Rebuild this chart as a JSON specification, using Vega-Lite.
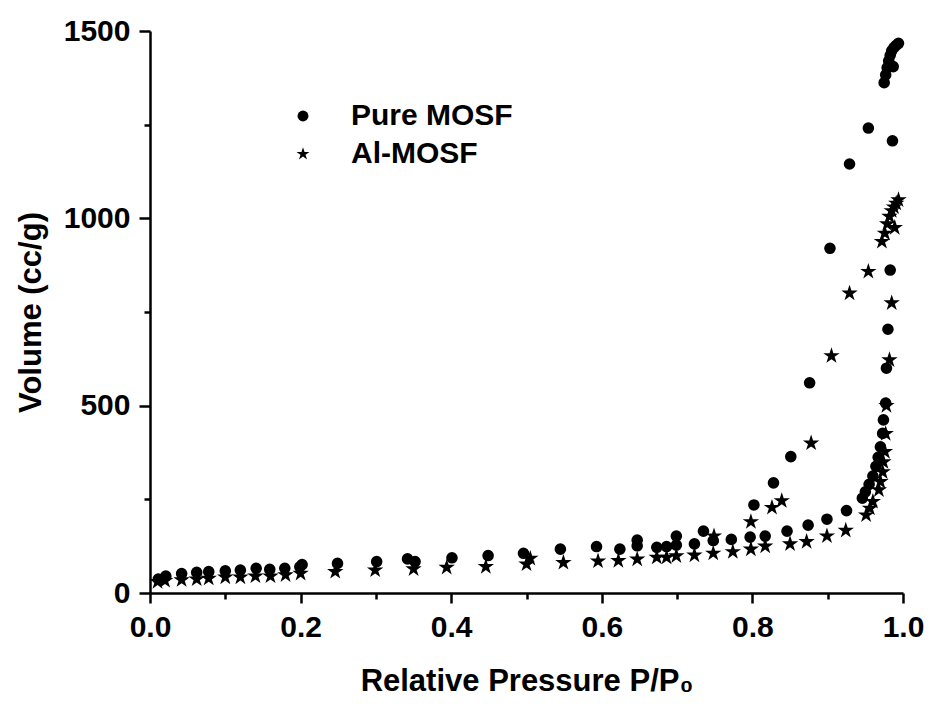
{
  "$schema": "https://vega.github.io/schema/vega-lite/v6.json",
  "width": 753,
  "height": 562,
  "autosize": "none",
  "padding": {"left": 150, "top": 31, "right": 28, "bottom": 115},
  "background": "white",
  "config": {
    "view": {"stroke": null},
    "font": "Liberation Sans"
  },
  "data": {
    "values": [
      {"p": 0.011, "v": 37, "s": "Pure MOSF"},
      {"p": 0.021, "v": 45, "s": "Pure MOSF"},
      {"p": 0.042, "v": 52, "s": "Pure MOSF"},
      {"p": 0.062, "v": 55, "s": "Pure MOSF"},
      {"p": 0.078, "v": 57, "s": "Pure MOSF"},
      {"p": 0.100, "v": 59, "s": "Pure MOSF"},
      {"p": 0.120, "v": 61, "s": "Pure MOSF"},
      {"p": 0.141, "v": 66, "s": "Pure MOSF"},
      {"p": 0.159, "v": 63, "s": "Pure MOSF"},
      {"p": 0.179, "v": 66, "s": "Pure MOSF"},
      {"p": 0.199, "v": 70, "s": "Pure MOSF"},
      {"p": 0.202, "v": 76, "s": "Pure MOSF"},
      {"p": 0.249, "v": 79, "s": "Pure MOSF"},
      {"p": 0.301, "v": 84, "s": "Pure MOSF"},
      {"p": 0.342, "v": 91, "s": "Pure MOSF"},
      {"p": 0.352, "v": 84, "s": "Pure MOSF"},
      {"p": 0.401, "v": 94, "s": "Pure MOSF"},
      {"p": 0.449, "v": 100, "s": "Pure MOSF"},
      {"p": 0.496, "v": 106, "s": "Pure MOSF"},
      {"p": 0.545, "v": 117, "s": "Pure MOSF"},
      {"p": 0.593, "v": 124, "s": "Pure MOSF"},
      {"p": 0.624, "v": 117, "s": "Pure MOSF"},
      {"p": 0.647, "v": 126, "s": "Pure MOSF"},
      {"p": 0.647, "v": 141, "s": "Pure MOSF"},
      {"p": 0.673, "v": 122, "s": "Pure MOSF"},
      {"p": 0.686, "v": 124, "s": "Pure MOSF"},
      {"p": 0.699, "v": 128, "s": "Pure MOSF"},
      {"p": 0.699, "v": 152, "s": "Pure MOSF"},
      {"p": 0.723, "v": 131, "s": "Pure MOSF"},
      {"p": 0.735, "v": 165, "s": "Pure MOSF"},
      {"p": 0.748, "v": 140, "s": "Pure MOSF"},
      {"p": 0.772, "v": 143, "s": "Pure MOSF"},
      {"p": 0.797, "v": 149, "s": "Pure MOSF"},
      {"p": 0.802, "v": 235, "s": "Pure MOSF"},
      {"p": 0.817, "v": 152, "s": "Pure MOSF"},
      {"p": 0.828, "v": 294, "s": "Pure MOSF"},
      {"p": 0.846, "v": 165, "s": "Pure MOSF"},
      {"p": 0.851, "v": 364, "s": "Pure MOSF"},
      {"p": 0.874, "v": 181, "s": "Pure MOSF"},
      {"p": 0.876, "v": 561, "s": "Pure MOSF"},
      {"p": 0.899, "v": 197, "s": "Pure MOSF"},
      {"p": 0.903, "v": 920, "s": "Pure MOSF"},
      {"p": 0.925, "v": 220, "s": "Pure MOSF"},
      {"p": 0.929, "v": 1145, "s": "Pure MOSF"},
      {"p": 0.946, "v": 253, "s": "Pure MOSF"},
      {"p": 0.950, "v": 270, "s": "Pure MOSF"},
      {"p": 0.954, "v": 1241, "s": "Pure MOSF"},
      {"p": 0.955, "v": 290, "s": "Pure MOSF"},
      {"p": 0.960, "v": 312, "s": "Pure MOSF"},
      {"p": 0.964, "v": 338, "s": "Pure MOSF"},
      {"p": 0.967, "v": 362, "s": "Pure MOSF"},
      {"p": 0.970, "v": 390, "s": "Pure MOSF"},
      {"p": 0.973, "v": 426, "s": "Pure MOSF"},
      {"p": 0.974, "v": 462, "s": "Pure MOSF"},
      {"p": 0.977, "v": 507, "s": "Pure MOSF"},
      {"p": 0.978, "v": 600, "s": "Pure MOSF"},
      {"p": 0.980, "v": 704, "s": "Pure MOSF"},
      {"p": 0.983, "v": 862, "s": "Pure MOSF"},
      {"p": 0.986, "v": 1207, "s": "Pure MOSF"},
      {"p": 0.975, "v": 1362, "s": "Pure MOSF"},
      {"p": 0.977, "v": 1383, "s": "Pure MOSF"},
      {"p": 0.979, "v": 1402, "s": "Pure MOSF"},
      {"p": 0.981, "v": 1420, "s": "Pure MOSF"},
      {"p": 0.983, "v": 1435, "s": "Pure MOSF"},
      {"p": 0.985, "v": 1447, "s": "Pure MOSF"},
      {"p": 0.988, "v": 1456, "s": "Pure MOSF"},
      {"p": 0.991, "v": 1462, "s": "Pure MOSF"},
      {"p": 0.994, "v": 1467, "s": "Pure MOSF"},
      {"p": 0.987, "v": 1405, "s": "Pure MOSF"},
      {"p": 0.010, "v": 30, "s": "Al-MOSF"},
      {"p": 0.020, "v": 33, "s": "Al-MOSF"},
      {"p": 0.042, "v": 35, "s": "Al-MOSF"},
      {"p": 0.062, "v": 37, "s": "Al-MOSF"},
      {"p": 0.078, "v": 39, "s": "Al-MOSF"},
      {"p": 0.100, "v": 42, "s": "Al-MOSF"},
      {"p": 0.120, "v": 42, "s": "Al-MOSF"},
      {"p": 0.140, "v": 45, "s": "Al-MOSF"},
      {"p": 0.160, "v": 45, "s": "Al-MOSF"},
      {"p": 0.180, "v": 48, "s": "Al-MOSF"},
      {"p": 0.200, "v": 52, "s": "Al-MOSF"},
      {"p": 0.246, "v": 57, "s": "Al-MOSF"},
      {"p": 0.299, "v": 61, "s": "Al-MOSF"},
      {"p": 0.350, "v": 64, "s": "Al-MOSF"},
      {"p": 0.394, "v": 68, "s": "Al-MOSF"},
      {"p": 0.446, "v": 70, "s": "Al-MOSF"},
      {"p": 0.500, "v": 77, "s": "Al-MOSF"},
      {"p": 0.505, "v": 92, "s": "Al-MOSF"},
      {"p": 0.549, "v": 81, "s": "Al-MOSF"},
      {"p": 0.595, "v": 85, "s": "Al-MOSF"},
      {"p": 0.622, "v": 86, "s": "Al-MOSF"},
      {"p": 0.647, "v": 90, "s": "Al-MOSF"},
      {"p": 0.673, "v": 95, "s": "Al-MOSF"},
      {"p": 0.686, "v": 95, "s": "Al-MOSF"},
      {"p": 0.699, "v": 99, "s": "Al-MOSF"},
      {"p": 0.723, "v": 101, "s": "Al-MOSF"},
      {"p": 0.748, "v": 106, "s": "Al-MOSF"},
      {"p": 0.749, "v": 152, "s": "Al-MOSF"},
      {"p": 0.774, "v": 110, "s": "Al-MOSF"},
      {"p": 0.798, "v": 117, "s": "Al-MOSF"},
      {"p": 0.798, "v": 190, "s": "Al-MOSF"},
      {"p": 0.817, "v": 125, "s": "Al-MOSF"},
      {"p": 0.826, "v": 228, "s": "Al-MOSF"},
      {"p": 0.839, "v": 246, "s": "Al-MOSF"},
      {"p": 0.850, "v": 131, "s": "Al-MOSF"},
      {"p": 0.872, "v": 137, "s": "Al-MOSF"},
      {"p": 0.878, "v": 400, "s": "Al-MOSF"},
      {"p": 0.899, "v": 152, "s": "Al-MOSF"},
      {"p": 0.905, "v": 633, "s": "Al-MOSF"},
      {"p": 0.924, "v": 167, "s": "Al-MOSF"},
      {"p": 0.929, "v": 800, "s": "Al-MOSF"},
      {"p": 0.951, "v": 208, "s": "Al-MOSF"},
      {"p": 0.954, "v": 858, "s": "Al-MOSF"},
      {"p": 0.956, "v": 226, "s": "Al-MOSF"},
      {"p": 0.960, "v": 244, "s": "Al-MOSF"},
      {"p": 0.968, "v": 275, "s": "Al-MOSF"},
      {"p": 0.970, "v": 297, "s": "Al-MOSF"},
      {"p": 0.973, "v": 323, "s": "Al-MOSF"},
      {"p": 0.974, "v": 350, "s": "Al-MOSF"},
      {"p": 0.976, "v": 377, "s": "Al-MOSF"},
      {"p": 0.977, "v": 425, "s": "Al-MOSF"},
      {"p": 0.978, "v": 500, "s": "Al-MOSF"},
      {"p": 0.982, "v": 622, "s": "Al-MOSF"},
      {"p": 0.985, "v": 774, "s": "Al-MOSF"},
      {"p": 0.972, "v": 938, "s": "Al-MOSF"},
      {"p": 0.976, "v": 960, "s": "Al-MOSF"},
      {"p": 0.979, "v": 985, "s": "Al-MOSF"},
      {"p": 0.982, "v": 1005, "s": "Al-MOSF"},
      {"p": 0.985, "v": 1020, "s": "Al-MOSF"},
      {"p": 0.988, "v": 1030, "s": "Al-MOSF"},
      {"p": 0.989, "v": 975, "s": "Al-MOSF"},
      {"p": 0.991, "v": 1040, "s": "Al-MOSF"},
      {"p": 0.994, "v": 1049, "s": "Al-MOSF"}
    ]
  },
  "mark": {"type": "point", "filled": true, "color": "black", "opacity": 1},
  "encoding": {
    "x": {
      "field": "p",
      "type": "quantitative",
      "scale": {"domain": [0, 1], "nice": false},
      "axis": {
        "values": [0, 0.1, 0.2, 0.3, 0.4, 0.5, 0.6, 0.7, 0.8, 0.9, 1.0],
        "labelExpr": "round(datum.value*10) % 2 == 1 ? '' : format(datum.value, '.1f')",
        "tickSize": {"condition": {"test": "round(datum.value*10) % 2 == 1", "value": 6}, "value": 10},
        "grid": false,
        "domainColor": "black",
        "domainWidth": 2.5,
        "tickColor": "black",
        "tickWidth": 2.5,
        "labelFont": "Liberation Sans",
        "labelFontWeight": "bold",
        "labelFontSize": 30,
        "labelColor": "black",
        "labelPadding": 9,
        "labelFlush": false,
        "labelOverlap": false,
        "title": "Relative Pressure P/P₀",
        "titleFont": "Liberation Sans",
        "titleFontWeight": "bold",
        "titleFontSize": 31,
        "titleColor": "black",
        "titlePadding": 24
      }
    },
    "y": {
      "field": "v",
      "type": "quantitative",
      "scale": {"domain": [0, 1500], "nice": false},
      "axis": {
        "values": [0, 250, 500, 750, 1000, 1250, 1500],
        "labelExpr": "datum.value % 500 == 0 ? format(datum.value, 'd') : ''",
        "tickSize": {"condition": {"test": "datum.value % 500 != 0", "value": 6}, "value": 11},
        "grid": false,
        "domainColor": "black",
        "domainWidth": 2.5,
        "tickColor": "black",
        "tickWidth": 2.5,
        "labelFont": "Liberation Sans",
        "labelFontWeight": "bold",
        "labelFontSize": 30,
        "labelColor": "black",
        "labelPadding": 9,
        "labelFlush": false,
        "labelOverlap": false,
        "title": "Volume (cc/g)",
        "titleFont": "Liberation Sans",
        "titleFontWeight": "bold",
        "titleFontSize": 31,
        "titleColor": "black",
        "titlePadding": 16
      }
    },
    "size": {
      "condition": {"test": "datum.s == 'Al-MOSF'", "value": 190},
      "value": 135
    },
    "shape": {
      "field": "s",
      "type": "nominal",
      "scale": {
        "domain": ["Pure MOSF", "Al-MOSF"],
        "range": ["circle", "M0,-1.25L0.281,-0.386L1.189,-0.386L0.454,0.148L0.735,1.011L0,0.478L-0.735,1.011L-0.454,0.148L-1.189,-0.386L-0.281,-0.386Z"]
      },
      "legend": {
        "orient": "none",
        "legendX": 138,
        "legendY": 70,
        "title": null,
        "padding": 0,
        "labelFont": "Liberation Sans",
        "labelFontWeight": "bold",
        "labelFontSize": 30,
        "labelColor": "black",
        "labelLimit": 400,
        "labelOffset": 33,
        "rowPadding": 8,
        "symbolSize": 120,
        "symbolFillColor": "black",
        "symbolStrokeColor": "black",
        "symbolStrokeWidth": 0
      }
    }
  }
}
